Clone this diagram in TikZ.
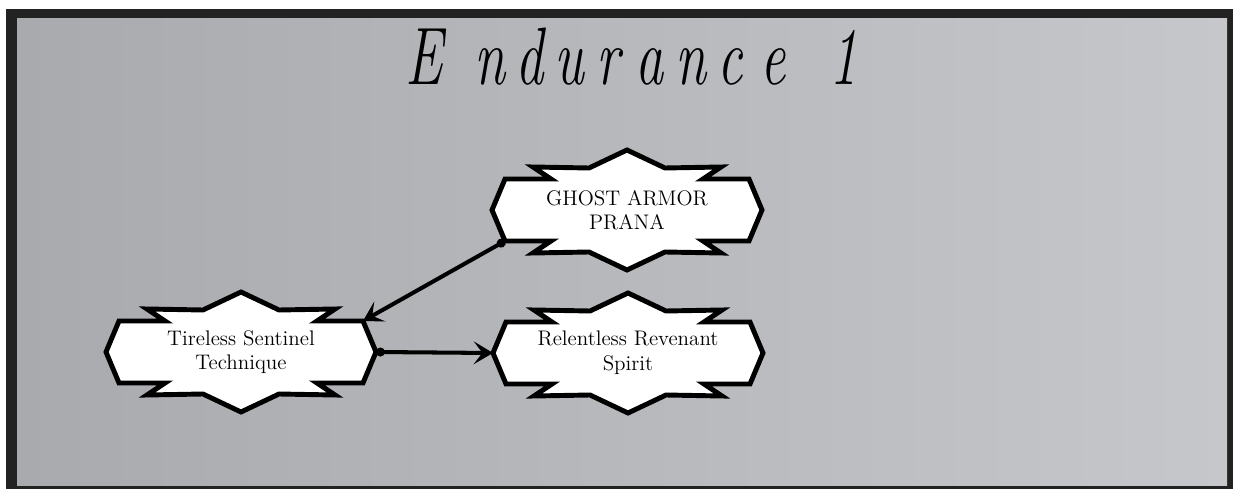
\documentclass[tikz,border=0pt]{standalone}
\usetikzlibrary{arrows.meta}

\definecolor{framegray}{RGB}{34,34,34}
\definecolor{bgdark}{RGB}{168,170,174}
\definecolor{bglight}{RGB}{197,199,202}

\tikzset{
	plaque/.style={align=center, inner sep=0pt, font=\fontsize{12}{14}\selectfont},
	plaqueline/.style={draw=black, fill=white, line width=2.8pt},
	titlechar/.style={anchor=base, inner sep=0pt, yscale=1.45, transform shape, font=\fontsize{32}{32}\selectfont\itshape},
	link/.style={line width=2.3pt, {Circle[length=5pt]}-{Stealth[length=11pt,width=13pt,inset=5pt]}},
}

% name, centre, text
\newcommand{\plaque}[3]{%
	\begin{scope}[shift={(#2)}]
		\draw[plaqueline] (0,-60) -- (-38,-42) -- (-94,-43) -- (-76,-31) -- (-122,-31) -- (-135,0) -- (-122,31) -- (-76,31) -- (-94,43) -- (-38,42) -- (0,60) -- (38,42) -- (94,43) -- (76,31) -- (122,31) -- (135,0) -- (122,-31) -- (76,-31) -- (94,-43) -- (38,-42) -- cycle;
		\node[plaque] (#1) at (0,0) {#3};
		\coordinate (#1-w) at (-135,0);
		\coordinate (#1-e) at (135,0);
		\coordinate (#1-ne) at (122,-31);
		\coordinate (#1-sw) at (-122,31);
	\end{scope}}

\begin{document}
\begin{tikzpicture}[x=0.02cm, y=-0.02cm, >=Stealth]
		%\draw [help lines, step=50] (0,0) grid (1233,489);
		\useasboundingbox (0,0) rectangle (1233,489);
		\fill [framegray] (6,9) rectangle (1233,489);
		\shade [left color=bgdark, right color=bglight] (17,19) rectangle (1227,485);
		\foreach \ch/\x [count=\i] in {E/424, n/490, d/530, u/569, r/608, a/650, n/691, c/730, e/773, 1/844}
			\node [titlechar] (title\i) at (\x,85) {\ch};
		\plaque{ghost}{627,210}{GHOST ARMOR\\PRANA}
		\plaque{tireless}{241,352}{Tireless Sentinel\\Technique}
		\plaque{relentless}{628,353}{Relentless Revenant\\Spirit}
		\draw [link] (ghost-sw) -- (tireless-ne);
		\draw [link] (tireless-e) -- (relentless-w);
	\end{tikzpicture}
\end{document}
